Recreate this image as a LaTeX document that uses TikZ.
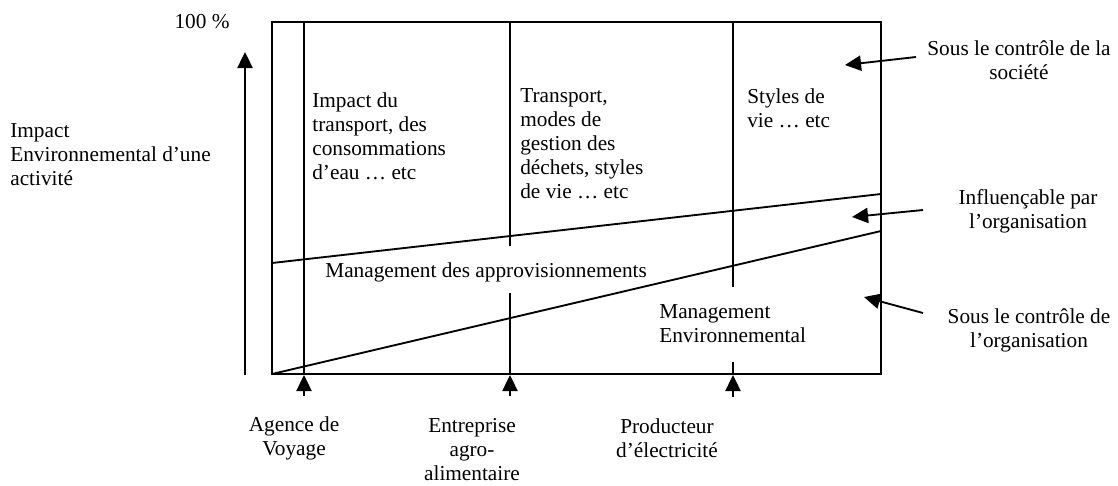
\documentclass[tikz,border=0pt]{standalone}
\usepackage{fontspec}
\setmainfont{Liberation Serif}
\usetikzlibrary{arrows.meta}
\begin{document}
\begin{tikzpicture}[x=0.592pt,y=-0.592pt,
  ln/.style={line width=1.1pt},
  arr/.style={line width=1.1pt,-{Triangle[length=9.5pt,width=9pt]}},
  lbl/.style={inner sep=0pt,font=\fontsize{12.6pt}{14.2pt}\selectfont},
  lblL/.style={lbl,align=left,anchor=west},
  lblC/.style={lbl,align=center}]
\useasboundingbox (0,0) rectangle (1118,485);
% frame
\draw[ln] (272,22) rectangle (881,374);
% vertical separators
\draw[ln] (304,22) -- (304,374);
\draw[ln] (510,22) -- (510,246);
\draw[ln] (510,293) -- (510,374);
\draw[ln] (733,22) -- (733,287);
\draw[ln] (733,362) -- (733,374);
% sloping lines
\draw[ln] (272,263) -- (881,194);
\draw[ln] (272,374) -- (881,231);
% y axis arrow
\coordinate (ya) at (245,375);
\coordinate (yb) at (245,52);
\draw[arr] (ya) -- (yb);
% texts
\node[lbl] (t100) at (202,22) {100 \%};
\node[lblL] (yl) at (10,155) {Impact\\Environnemental d’une\\activité};
\node[lblL] (z1) at (312,136) {Impact du\\transport, des\\consommations\\d’eau … etc};
\node[lblL] (z2) at (520,144) {Transport,\\modes de\\gestion des\\déchets, styles\\de vie … etc};
\node[lblL] (z3) at (747,108) {Styles de\\vie … etc};
\node[lblL] (ma) at (325,272) {Management des approvisionnements};
\node[lblL] (me) at (659,324) {Management\\Environnemental};
% bottom labels
\node[lblC] (b1) at (294,438) {Agence de\\Voyage};
\node[lblC] (b2) at (472,450) {Entreprise\\agro-\\alimentaire};
\node[lblC] (b3) at (667,438) {Producteur\\d’électricité};
\coordinate (b1s) at (304,396);
\coordinate (b1e) at (304,375);
\coordinate (b2s) at (510,396);
\coordinate (b2e) at (510,375);
\coordinate (b3s) at (733,397);
\coordinate (b3e) at (733,375);
\draw[arr] (b1s) -- (b1e);
\draw[arr] (b2s) -- (b2e);
\draw[arr] (b3s) -- (b3e);
% right labels
\node[lblC] (r1) at (1019,60) {Sous le contrôle de la\\société};
\node[lblC] (r2) at (1028,211) {Influençable par\\l’organisation};
\node[lblC] (r3) at (1029,330) {Sous le contrôle de\\l’organisation};
\coordinate (r1s) at (916,57);
\coordinate (r1e) at (845,65);
\coordinate (r2s) at (923,210);
\coordinate (r2e) at (852,217);
\coordinate (r3s) at (923,313);
\coordinate (r3e) at (864,297);
\draw[arr] (r1s) -- (r1e);
\draw[arr] (r2s) -- (r2e);
\draw[arr] (r3s) -- (r3e);
\end{tikzpicture}
\end{document}
